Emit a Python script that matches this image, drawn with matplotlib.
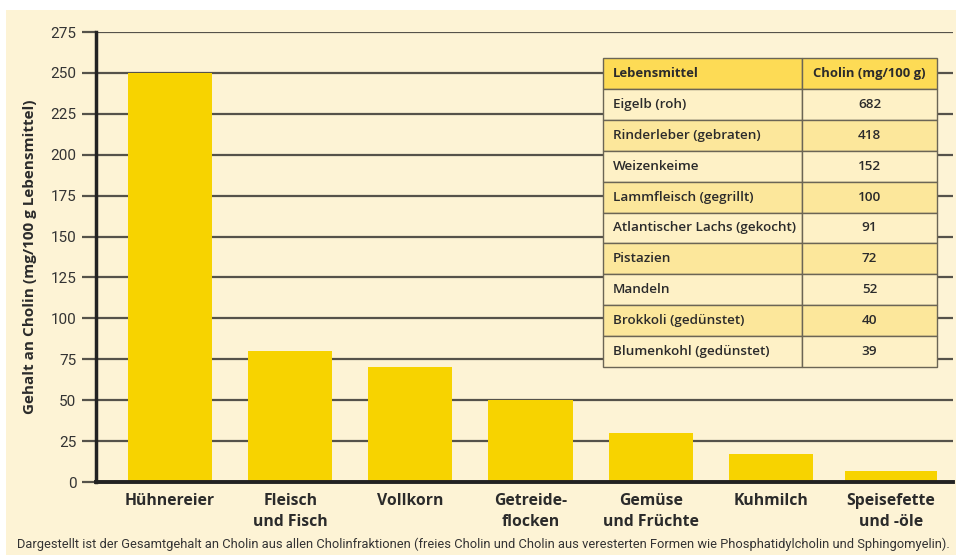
import numpy as np
import matplotlib.pyplot as plt
from matplotlib.patches import Rectangle

kategorien = ['Hühnereier', 'Fleisch\nund Fisch', 'Vollkorn', 'Getreide-\nflocken',
              'Gemüse\nund Früchte', 'Kuhmilch', 'Speisefette\nund -öle']
werte = [250, 80, 70, 50, 30, 17, 6.5]

tab_kopf = ['Lebensmittel', 'Cholin (mg/100 g)']
lebensmittel = ['Eigelb (roh)', 'Rinderleber (gebraten)', 'Weizenkeime',
                'Lammfleisch (gegrillt)', 'Atlantischer Lachs (gekocht)',
                'Pistazien', 'Mandeln', 'Brokkoli (gedünstet)', 'Blumenkohl (gedünstet)']
cholin = [682, 418, 152, 100, 91, 72, 52, 40, 39]

y_ticks = np.arange(0, 276, 25)

creme = '#fdf3d5'
gelb = '#f7d300'
gitter = '#55524a'
schmal = 'Roboto'

W, H = 956, 555
fig = plt.figure(figsize=(W / 100, H / 100), dpi=100)
fig.patch.set_facecolor('white')
# cremefarbener Hintergrund
fig.patches.append(Rectangle((6 / W, 0), 1 - 6 / W, 1 - 10 / H, transform=fig.transFigure,
                             facecolor=creme, edgecolor='none', zorder=-1))

ax = fig.add_axes([96 / W, 1 - 482 / H, (953 - 96) / W, 450 / H])
ax.set_zorder(2)
ax.set_facecolor('none')

x = np.arange(len(werte))
breiten = [0.7] * 6 + [0.76]
ax.bar(x, werte, width=breiten, color=gelb, zorder=3)

ax.set_xlim(-0.617, 6.517)
ax.set_ylim(0, 275)
ax.set_yticks(y_ticks)
ax.set_yticklabels([str(t) for t in y_ticks], family=schmal, fontsize=11, color='#333333')
ax.yaxis.grid(True, color=gitter, linewidth=1.6, zorder=1)
ax.tick_params(axis='y', length=10, width=1.6, color=gitter, pad=4)
ax.tick_params(axis='x', length=0, pad=8)
ax.set_xticks(x)
ax.set_xticklabels(kategorien, fontfamily='Open Sans', fontweight='bold', fontsize=11.3,
                   color='#2b2b2b', linespacing=1.4, va='top')

for s in ['top', 'right']:
    ax.spines[s].set_visible(False)
ax.spines['left'].set_linewidth(2.5)
ax.spines['left'].set_color('#222222')
ax.spines['bottom'].set_linewidth(2.8)
ax.spines['bottom'].set_color('#222222')
ax.spines['left'].set_zorder(4)
ax.spines['bottom'].set_zorder(4)

ax.set_ylabel('Gehalt an Cholin (mg/100 g Lebensmittel)', fontfamily='Open Sans',
              fontweight='bold', fontsize=11, color='#2b2b2b', labelpad=10)

# Tabelle
zeilen = [[n, str(c)] for n, c in zip(lebensmittel, cholin)]
tab = ax.table(cellText=zeilen, colLabels=tab_kopf, colWidths=[199, 135],
               bbox=[(603 - 96) / 857, (482 - 367) / 450, (937 - 603) / 857, 309 / 450],
               zorder=5)
tab.auto_set_font_size(False)
for (r, c), cell in tab.get_celld().items():
    cell.set_edgecolor('#6b6555')
    cell.set_linewidth(1.0)
    t = cell.get_text()
    t.set_fontfamily('Open Sans')
    t.set_color('#2b2b2b')
    if r == 0:
        cell.set_facecolor('#fddb55')
        t.set_fontweight('bold')
        t.set_fontsize(9.4)
    else:
        cell.set_facecolor('#fef1c6' if r % 2 == 1 else '#fce79b')
        t.set_fontweight('semibold')
        t.set_fontsize(9.7)
    if c == 0:
        cell.set_text_props(ha='left')
        cell.PAD = 0.05
    else:
        cell.set_text_props(ha='center')

fig.text(17 / W, 1 - 548 / H,
         'Dargestellt ist der Gesamtgehalt an Cholin aus allen Cholinfraktionen (freies Cholin und Cholin aus '
         'veresterten Formen wie Phosphatidylcholin und Sphingomyelin).',
         family=schmal, fontsize=9.25, color='#333333', va='baseline', ha='left')

fig.savefig('out.png', dpi=100)
